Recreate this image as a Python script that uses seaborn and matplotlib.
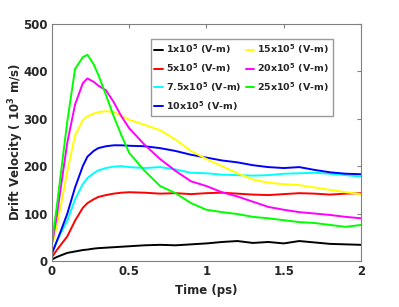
import numpy as np
import pandas as pd
import matplotlib
matplotlib.use("Agg")
import matplotlib.pyplot as plt
import seaborn as sns

time_ps = [0, 0.03, 0.06, 0.1, 0.15, 0.2, 0.23, 0.27, 0.3, 0.35, 0.4, 0.45, 0.5,
           0.6, 0.7, 0.8, 0.9, 1.0, 1.1, 1.2, 1.3, 1.4, 1.5, 1.6, 1.7, 1.8, 1.9, 2.0]

v_1 = [3, 8, 12, 17, 20, 23, 24, 26, 27, 28, 29, 30, 31, 33, 34, 33, 35, 37, 40, 42,
       38, 40, 37, 42, 39, 36, 35, 34]
v_5 = [8, 22, 35, 52, 85, 112, 122, 130, 135, 139, 142, 144, 145, 144, 142, 143, 141,
       143, 144, 142, 140, 139, 141, 143, 142, 140, 142, 143]
v_7_5 = [18, 40, 60, 85, 130, 162, 175, 185, 191, 196, 199, 200, 198, 196, 198, 193,
         186, 185, 182, 181, 180, 181, 184, 185, 186, 184, 181, 178]
v_10 = [15, 40, 65, 100, 155, 200, 220, 232, 238, 242, 244, 244, 243, 242, 238, 232,
        224, 218, 212, 208, 202, 198, 196, 198, 192, 187, 184, 183]
v_15 = [30, 70, 120, 190, 265, 297, 305, 311, 314, 316, 314, 306, 298, 287, 276, 256,
        232, 215, 200, 185, 172, 165, 162, 160, 155, 150, 145, 141]
v_20 = [35, 90, 160, 250, 330, 375, 385, 378, 370, 360, 335, 305, 280, 245, 215, 190,
        168, 158, 145, 136, 125, 114, 108, 103, 100, 97, 93, 90]
v_25 = [40, 110, 190, 295, 405, 430, 435, 415, 393, 350, 305, 265, 228, 190, 158, 143,
        122, 108, 103, 99, 93, 90, 86, 82, 80, 76, 72, 76]

labels = ["1x10$^5$ (V-m)", "5x10$^5$ (V-m)", "7.5x10$^5$ (V-m)", "10x10$^5$ (V-m)",
          "15x10$^5$ (V-m)", "20x10$^5$ (V-m)", "25x10$^5$ (V-m)"]
series = [v_1, v_5, v_7_5, v_10, v_15, v_20, v_25]
colors = ["#000000", "#FF0000", "#00FFFF", "#0000FF", "#FFFF00", "#FF00FF", "#00FF00"]

rows = []
for lab, vals in zip(labels, series):
    for t, v in zip(time_ps, vals):
        rows.append({"t": t, "v": v, "field": lab})
df = pd.DataFrame(rows)

sns.set_style("white")
plt.rcParams["font.family"] = ["DejaVu Sans"]
plt.rcParams["mathtext.default"] = "bf"

fig = plt.figure(figsize=(3.99, 3.07), dpi=100)
ax = fig.add_axes([0.130, 0.150, 0.775, 0.772])
sns.lineplot(data=df, x="t", y="v", hue="field", palette=dict(zip(labels, colors)),
             hue_order=labels, linewidth=1.4, ax=ax, legend=True)

ax.set_xlim(0, 2)
ax.set_ylim(0, 500)
ax.set_xticks([0, 0.5, 1, 1.5, 2])
ax.set_xticklabels(["0", "0.5", "1", "1.5", "2"])
ax.set_yticks([0, 100, 200, 300, 400, 500])
for s in ax.spines.values():
    s.set_visible(True)
    s.set_color("#808080")
    s.set_linewidth(0.8)
ax.tick_params(direction="in", length=3, color="#808080", top=True, right=True,
               labelsize=8.5, labelcolor="#262626", pad=3)
for lab in ax.get_xticklabels() + ax.get_yticklabels():
    lab.set_fontweight("bold")
ax.set_xlabel("Time (ps)", fontsize=8.5, fontweight="bold", color="#262626")
ax.set_ylabel("Drift Velocity ( 10$^3$ m/s)", fontsize=8.5, fontweight="bold",
              color="#262626")
ax.yaxis.set_label_coords(-0.085, 0.5)

leg = ax.legend(ncol=2, loc="upper left", bbox_to_anchor=(0.305, 0.955),
                prop={"size": 6.8, "weight": "bold"}, handlelength=0.9, handletextpad=0.3,
                columnspacing=0.5, labelspacing=0.55, borderpad=0.35,
                frameon=True, fancybox=False)
leg.get_frame().set_edgecolor("#808080")
leg.get_frame().set_linewidth(1.0)

fig.savefig("out.png", dpi=100)
